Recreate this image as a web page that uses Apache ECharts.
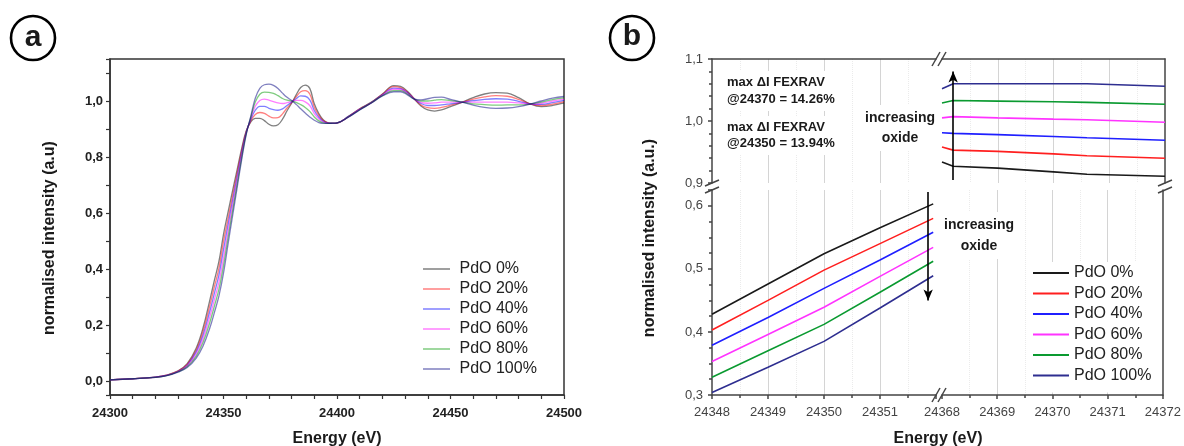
<!DOCTYPE html>
<html lang="en">
<head>
<meta charset="UTF-8">
<title>PdO XANES / FEXRAV</title>
<script src="https://cdn.jsdelivr.net/npm/echarts@6/dist/echarts.min.js"></script>
<style>
  html, body { margin: 0; padding: 0; background: #fff; }
  #chart { width: 1184px; height: 446px; }
</style>
</head>
<body>
<div id="chart"></div>
<script>
var names = ['PdO 0%', 'PdO 20%', 'PdO 40%', 'PdO 60%', 'PdO 80%', 'PdO 100%'];
var colorsA = ['#000000', '#ff0000', '#0000ff', '#ff00ff', '#009900', '#000080'];
var colorsB = ['#1a1a1a', '#ff1f1f', '#1f1fff', '#ff33ff', '#0a9a30', '#2e2e90'];

// panel a: whole spectra
var energyA = [24300, 24310, 24320, 24325, 24330, 24334, 24338, 24341, 24344, 24346,
  24348, 24350, 24352, 24354, 24356, 24358, 24360, 24362, 24364, 24366,
  24368, 24370, 24372, 24374, 24376, 24378, 24380, 24382, 24384, 24386,
  24388, 24390, 24392, 24394, 24396, 24398, 24400, 24405, 24410, 24415,
  24420, 24425, 24428, 24431, 24434, 24437, 24440, 24443, 24446, 24450,
  24455, 24460, 24465, 24470, 24475, 24480, 24485, 24490, 24495, 24500];
var pdo0 = [.004, .008, .014, .021, .036, .062, .118, .190, .290, .360,
  .428, .524, .603, .680, .755, .830, .893, .925, .938, .938,
  .930, .917, .911, .915, .935, .965, .992, 1.022, 1.048, 1.057,
  1.045, .990, .955, .932, .922, .920, .921, .945, .972, .995,
  1.025, 1.055, 1.052, 1.035, 1.008, .982, .968, .964, .968, .980,
  .995, 1.012, 1.025, 1.030, 1.028, 1.012, .990, .980, .984, .993];
var pdo20 = [.004, .008, .014, .021, .035, .059, .111, .177, .270, .337,
  .403, .498, .580, .662, .742, .822, .890, .929, .952, .959,
  .956, .946, .940, .941, .954, .975, .994, 1.015, 1.033, 1.037,
  1.025, .978, .949, .930, .922, .920, .921, .944, .971, .994,
  1.024, 1.051, 1.048, 1.032, 1.008, .986, .976, .974, .977, .985,
  .995, 1.007, 1.015, 1.019, 1.017, 1.006, .990, .984, .989, .998];
var pdo40 = [.004, .008, .014, .020, .034, .056, .104, .164, .250, .314,
  .379, .469, .558, .644, .729, .814, .888, .933, .967, .981,
  .981, .974, .969, .967, .972, .984, .996, 1.008, 1.018, 1.017,
  1.004, .966, .942, .927, .921, .920, .921, .944, .970, .994,
  1.022, 1.046, 1.044, 1.030, 1.008, .991, .984, .984, .986, .990,
  .995, 1.001, 1.006, 1.008, 1.007, .999, .990, .988, .994, 1.002];
var pdo60 = [.004, .008, .013, .020, .034, .054, .096, .151, .230, .291,
  .353, .439, .534, .626, .716, .806, .885, .937, .981, 1.002,
  1.007, 1.003, .998, .993, .991, .994, .998, 1.002, 1.002, .997,
  .984, .955, .936, .925, .921, .921, .922, .943, .970, .993,
  1.021, 1.042, 1.041, 1.027, 1.008, .995, .992, .993, .996, .996,
  .996, .996, .996, .996, .996, .993, .989, .992, 1.000, 1.007];
var pdo80 = [.004, .008, .013, .019, .033, .051, .089, .138, .210, .268,
  .328, .412, .512, .608, .703, .798, .883, .941, .996, 1.024,
  1.032, 1.031, 1.027, 1.019, 1.009, 1.003, 1.000, .995, .987, .977,
  .963, .943, .929, .922, .920, .921, .922, .943, .969, .993,
  1.019, 1.037, 1.037, 1.025, 1.007, 1.000, 1.000, 1.003, 1.005, 1.001,
  .996, .990, .987, .985, .986, .986, .989, .996, 1.005, 1.011];
var pdo100 = [.004, .008, .013, .019, .032, .048, .082, .125, .190, .245,
  .304, .385, .489, .590, .690, .790, .880, .945, 1.010, 1.045,
  1.058, 1.060, 1.056, 1.045, 1.028, 1.013, 1.002, .988, .972, .957,
  .943, .931, .923, .920, .920, .921, .922, .942, .968, .992,
  1.018, 1.033, 1.033, 1.022, 1.007, 1.004, 1.008, 1.013, 1.014, 1.006,
  .996, .985, .977, .974, .975, .980, .989, 1.000, 1.010, 1.016];

// panel b: zoom on the edge and on the white line
var edgeE = [24348, 24349, 24350, 24351, 24351.95];
var edge0 = [0.428, 0.476, 0.524, 0.565, 0.603];
var edge20 = [0.403, 0.450, 0.498, 0.540, 0.580];
var edge40 = [0.379, 0.423, 0.469, 0.514, 0.558];
var edge60 = [0.353, 0.396, 0.439, 0.488, 0.534];
var edge80 = [0.328, 0.370, 0.412, 0.463, 0.512];
var edge100 = [0.304, 0.344, 0.385, 0.438, 0.489];

var peakE = [24368, 24368.2, 24369, 24370, 24370.6, 24372];
var peak0 = [0.934, 0.927, 0.924, 0.918, 0.914, 0.911];
var peak20 = [0.958, 0.953, 0.951, 0.947, 0.944, 0.940];
var peak40 = [0.981, 0.980, 0.978, 0.975, 0.973, 0.969];
var peak60 = [1.005, 1.007, 1.005, 1.003, 1.002, 0.998];
var peak80 = [1.029, 1.033, 1.032, 1.031, 1.030, 1.027];
var peak100 = [1.052, 1.060, 1.060, 1.060, 1.060, 1.056];

var arrowDown = [[24351.86, 0.622], [24351.86, 0.45]];
var arrowUp = [[24368.2, 0.905], [24368.2, 1.08]];

var seriesA = [pdo0, pdo20, pdo40, pdo60, pdo80, pdo100];
var seriesEdge = [edge0, edge20, edge40, edge60, edge80, edge100];
var seriesPeak = [peak0, peak20, peak40, peak60, peak80, peak100];

var FONT = '"Liberation Sans", Arial, sans-serif';

function pairs(xs, ys) {
  return xs.map(function (x, i) { return [x, ys[i]]; });
}
function comma(v) { return v.toFixed(1).replace('.', ','); }
function plain(v) { return String(v); }

var lineB = { color: '#444', width: 1.5 };
var gridLine = { show: true, showMinLine: false, showMaxLine: false, lineStyle: { color: '#d4d4d4', width: 1 } };
var gridMinor = { show: true, lineStyle: { color: '#ebebeb', width: 1, type: 'dotted' } };

function xb(grid, min, pos, labels) {
  return {
    type: 'value', gridIndex: grid, min: min, max: min + 4, interval: 1, position: pos,
    axisLine: { show: true, onZero: false, lineStyle: lineB },
    axisTick: { show: labels, length: 4, lineStyle: lineB },
    minorTick: { show: labels, splitNumber: 2, length: 3, lineStyle: lineB },
    axisLabel: { show: labels, formatter: plain, showMaxLabel: min === 24368, fontSize: 13, color: '#444', margin: 11 },
    splitLine: gridLine, minorSplitLine: gridMinor
  };
}

var series = [];
seriesA.forEach(function (arr, i) {
  series.push({
    name: names[i], type: 'line', xAxisIndex: 0, yAxisIndex: 0,
    data: pairs(energyA, arr), symbol: 'none', smooth: 0.4,
    lineStyle: { color: colorsA[i], width: 1.3, opacity: 0.5 },
    itemStyle: { color: colorsA[i], opacity: 0.5 }
  });
});
seriesEdge.forEach(function (arr, i) {
  series.push({
    name: 'b-' + names[i], type: 'line', xAxisIndex: 1, yAxisIndex: 1,
    data: pairs(edgeE, arr), symbol: 'none',
    lineStyle: { color: colorsB[i], width: 1.6 }, itemStyle: { color: colorsB[i] }
  });
});
seriesPeak.forEach(function (arr, i) {
  series.push({
    name: 'b-' + names[i], type: 'line', xAxisIndex: 4, yAxisIndex: 4,
    data: pairs(peakE, arr), symbol: 'none',
    lineStyle: { color: colorsB[i], width: 1.6 }, itemStyle: { color: colorsB[i] }
  });
});
// the two "increasing oxide" arrows
[[1, arrowDown], [4, arrowUp]].forEach(function (a) {
  series.push({
    type: 'line', xAxisIndex: a[0], yAxisIndex: a[0], data: [],
    markLine: {
      silent: true, animation: false, symbol: ['none', 'arrow'], symbolSize: [7, 11],
      label: { show: false },
      lineStyle: { color: '#000', width: 1.6, type: 'solid' },
      itemStyle: { color: '#000' },
      data: [[{ coord: a[1][0] }, { coord: a[1][1] }]]
    }
  });
});

function slash(x1, y1, x2, y2) {
  return { type: 'line', z: 100, shape: { x1: x1, y1: y1, x2: x2, y2: y2 }, style: { stroke: '#444', lineWidth: 1.5 } };
}
function label(txt, x, y, opt) {
  var st = {
    text: txt, font: opt.font || 'bold 16px ' + FONT, fill: '#1a1a1a',
    align: opt.align || 'center', textAlign: opt.align || 'center',
    verticalAlign: opt.va || 'middle', textVerticalAlign: opt.va || 'middle'
  };
  if (opt.lh) st.lineHeight = opt.lh;
  if (opt.bg) { st.backgroundColor = '#fff'; st.padding = opt.pad || [3, 4, 3, 4]; }
  return { type: 'text', z: 100, x: x, y: y, rotation: opt.rot || 0, style: st };
}

var graphic = [
  { type: 'circle', z: 100, shape: { cx: 33, cy: 38, r: 22 }, style: { fill: '#fff', stroke: '#000', lineWidth: 2.6 } },
  label('a', 33, 38, { font: 'bold 30px ' + FONT }),
  { type: 'circle', z: 100, shape: { cx: 632, cy: 38, r: 22 }, style: { fill: '#fff', stroke: '#000', lineWidth: 2.6 } },
  label('b', 632, 37, { font: 'bold 30px ' + FONT }),
  label('normalised intensity (a.u)', 50, 238, { rot: Math.PI / 2 }),
  label('Energy (eV)', 337, 439, {}),
  label('normalised intensity (a.u.)', 650, 238, { rot: Math.PI / 2 }),
  label('Energy (eV)', 938, 439, {}),
  label('max \u0394I FEXRAV\n@24370 = 14.26%', 723, 71, { font: 'bold 13px ' + FONT, align: 'left', va: 'top', lh: 17, bg: true }),
  label('max \u0394I FEXRAV\n@24350 = 13.94%', 723, 116, { font: 'bold 13px ' + FONT, align: 'left', va: 'top', lh: 16.5, bg: true }),
  label('increasing\noxide', 900, 105, { font: 'bold 14px ' + FONT, va: 'top', lh: 20, bg: true }),
  label('increasing\noxide', 979, 212, { font: 'bold 14px ' + FONT, va: 'top', lh: 20.5, bg: true }),
  slash(932, 66, 940, 52), slash(938, 66, 946, 52),
  slash(932, 402, 940, 388), slash(938, 402, 946, 388),
  slash(705, 186, 719, 180), slash(705, 193, 719, 187),
  slash(1158, 186, 1172, 180), slash(1158, 193, 1172, 187)
];

var chart = echarts.init(document.getElementById('chart'));
chart.setOption({
  animation: false,
  backgroundColor: '#fff',
  textStyle: { fontFamily: FONT },
  grid: [
    { left: 110, top: 59, width: 454, height: 336, show: true, borderColor: '#333', borderWidth: 1.5 },
    { left: 712, top: 190, width: 224, height: 205 },
    { left: 942, top: 190, width: 223, height: 205 },
    { left: 712, top: 59, width: 224, height: 124 },
    { left: 942, top: 59, width: 223, height: 124 }
  ],
  xAxis: [
    {
      type: 'value', gridIndex: 0, min: 24300, max: 24500, interval: 50,
      axisLine: { show: true, onZero: false, lineStyle: { color: '#333', width: 1.5 } },
      axisTick: { length: 4, lineStyle: { color: '#333', width: 1.2 } },
      minorTick: { show: true, splitNumber: 5, length: 4, lineStyle: { color: '#333', width: 1.2 } },
      axisLabel: { formatter: plain, fontSize: 13, fontWeight: 'bold', color: '#222', margin: 12 },
      splitLine: { show: false }
    },
    xb(1, 24348, 'bottom', true),
    xb(2, 24368, 'bottom', true),
    xb(3, 24348, 'top', false),
    xb(4, 24368, 'top', false)
  ],
  yAxis: [
    {
      type: 'value', gridIndex: 0, min: -0.05, max: 1.15, splitNumber: 6,
      axisLine: { show: true, onZero: false, lineStyle: { color: '#333', width: 1.5 } },
      axisTick: { length: 4, lineStyle: { color: '#333', width: 1.2 } },
      minorTick: { show: true, splitNumber: 2, length: 4, lineStyle: { color: '#333', width: 1.2 } },
      axisLabel: { formatter: comma, showMinLabel: false, showMaxLabel: false, fontSize: 13, fontWeight: 'bold', color: '#222', margin: 7 },
      splitLine: { show: false }
    },
    {
      type: 'value', gridIndex: 1, min: 0.3, max: 0.625, splitNumber: 3,
      axisLine: { show: true, onZero: false, lineStyle: lineB },
      axisTick: { length: 4, lineStyle: lineB },
      minorTick: { show: true, splitNumber: 4, length: 3, lineStyle: lineB },
      axisLabel: { formatter: comma, showMaxLabel: false, fontSize: 13, color: '#444', margin: 9 },
      splitLine: { show: false }
    },
    {
      type: 'value', gridIndex: 2, min: 0.3, max: 0.625, position: 'right',
      axisLine: { show: true, onZero: false, lineStyle: lineB },
      axisTick: { show: false }, axisLabel: { show: false }, splitLine: { show: false }
    },
    {
      type: 'value', gridIndex: 3, min: 0.9, max: 1.1, interval: 0.1,
      axisLine: { show: true, onZero: false, lineStyle: lineB },
      axisTick: { length: 4, lineStyle: lineB },
      minorTick: { show: true, splitNumber: 5, length: 3, lineStyle: lineB },
      axisLabel: { formatter: comma, fontSize: 13, color: '#444', margin: 9 },
      splitLine: { show: false }
    },
    {
      type: 'value', gridIndex: 4, min: 0.9, max: 1.1, position: 'right',
      axisLine: { show: true, onZero: false, lineStyle: lineB },
      axisTick: { show: false }, axisLabel: { show: false }, splitLine: { show: false }
    }
  ],
  legend: [
    {
      orient: 'vertical', left: 423, top: 261, padding: 0, itemWidth: 36, itemHeight: 1.5, itemGap: 4,
      icon: 'path://M0,0H36V2H0Z',
      data: names, selectedMode: false,
      textStyle: { fontSize: 16, color: '#222', fontFamily: FONT }
    },
    {
      orient: 'vertical', left: 1027, top: 262, padding: [3, 8, 9, 6], itemWidth: 36, itemHeight: 2, itemGap: 4.5,
      icon: 'path://M0,0H36V2H0Z',
      backgroundColor: '#fff', selectedMode: false,
      data: names.map(function (n) { return 'b-' + n; }),
      formatter: function (n) { return n.replace('b-', ''); },
      textStyle: { fontSize: 16, color: '#222', fontFamily: FONT }
    }
  ],
  graphic: graphic,
  series: series
});
</script>
</body>
</html>
